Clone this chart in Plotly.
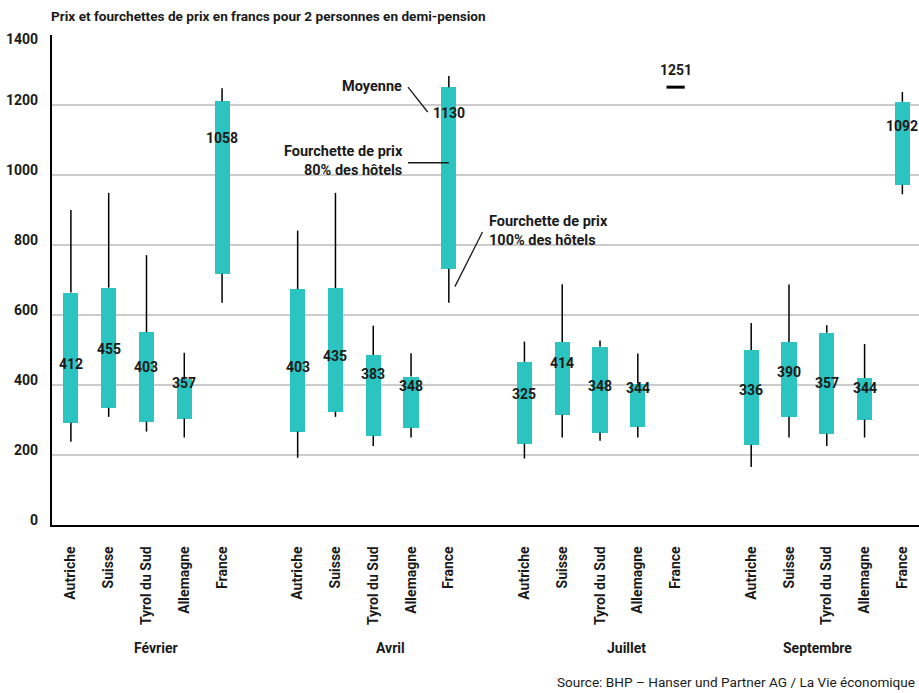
import plotly.graph_objects as go

months = ["Février", "Avril", "Juillet", "Septembre"]
countries = ["Autriche", "Suisse", "Tyrol du Sud", "Allemagne", "France"]

# per month: Autriche, Suisse, Tyrol du Sud, Allemagne, France
low_100 = [238, 309, 267, 250, 635,
           192, 309, 226, 250, 635,
           190, 250, 241, 250, None,
           166, 250, 226, 250, 945]
low_80 = [292, 335, 295, 304, 718,
          267, 324, 255, 278, 732,
          232, 315, 264, 281, None,
          229, 309, 261, 301, 972]
high_80 = [664, 678, 551, 416, 1211,
           674, 677, 486, 424, 1251,
           466, 523, 509, 404, None,
           500, 523, 549, 420, 1209]
high_100 = [900, 949, 771, 492, 1248,
            841, 949, 569, 491, 1283,
            524, 688, 527, 490, None,
            577, 687, 571, 517, 1237]
moyenne = [412, 455, 403, 357, 1058,
           403, 435, 383, 348, 1130,
           325, 414, 348, 344, 1251,
           336, 390, 357, 344, 1092]

y_ticks = [0, 200, 400, 600, 800, 1000, 1200, 1400]

TEAL = "#2cc4c1"
FONT = "Roboto"

pos = [g * 6 + i for g in range(len(months)) for i in range(len(countries))]

fig = go.Figure()

# whiskers (100% range) drawn as two segments outside the 80% box
wx, wy = [], []
for x, a, b, c, d in zip(pos, low_100, low_80, high_80, high_100):
    if a is None:
        continue
    wx += [x, x, None, x, x, None]
    wy += [a, b, None, c, d, None]
fig.add_trace(go.Scatter(x=wx, y=wy, mode="lines",
                         line=dict(color="black", width=1.5),
                         hoverinfo="skip", showlegend=False))

# 80% boxes
bx, bb, bh = [], [], []
for x, b, c in zip(pos, low_80, high_80):
    if b is None:
        continue
    bx.append(x); bb.append(b); bh.append(c - b)
fig.add_trace(go.Bar(x=bx, y=bh, base=bb, width=0.4,
                     marker=dict(color=TEAL, line=dict(width=0)),
                     showlegend=False, hoverinfo="skip"))

# mean-only mark (no range available)
mx = [x for x, a, m in zip(pos, low_80, moyenne) if a is None]
my = [m for a, m in zip(low_80, moyenne) if a is None]
fig.add_trace(go.Scatter(x=mx, y=my, mode="markers",
                         marker=dict(symbol="line-ew", size=13,
                                     line=dict(width=3, color="black")),
                         showlegend=False, hoverinfo="skip"))

ann = []
# mean labels
for x, m in zip(pos, moyenne):
    ann.append(dict(x=x, y=m, xref="x", yref="y", text=str(m), showarrow=False,
                    yshift=17, xanchor="center", yanchor="middle",
                    font=dict(family=FONT, size=14, color="#1a1a1a", weight="bold")))

# y tick labels
for v in y_ticks:
    ann.append(dict(x=-0.0138, y=v, xref="paper", yref="y", text=str(v),
                    showarrow=False, xanchor="right", yanchor="middle",
                    yshift=(-4 if v == 1400 else 5),
                    font=dict(family=FONT, size=14, color="#1a1a1a", weight="bold")))

# month labels
month_offsets = [0.25, 0.45, 0.7, -0.24]
for g, (mname, off) in enumerate(zip(months, month_offsets)):
    ann.append(dict(x=g * 6 + 2 + off, y=-0.251, xref="x", yref="paper", text=mname,
                    showarrow=False, xanchor="center", yanchor="middle",
                    font=dict(family=FONT, size=14, color="#1a1a1a", weight="bold")))

# title
ann.append(dict(x=-0.0035, y=1.0388, xref="paper", yref="paper",
                text="Prix et fourchettes de prix en francs pour 2 personnes en demi-pension",
                showarrow=False, xanchor="left", yanchor="middle",
                font=dict(family=FONT, size=13.6, color="#1a1a1a", weight="bold")))

# source
ann.append(dict(x=0.580, y=-0.320, xref="paper", yref="paper",
                text="Source: BHP – Hanser und Partner AG / La Vie économique",
                showarrow=False, xanchor="left", yanchor="middle",
                font=dict(family=FONT, size=13.6, color="#1a1a1a")))

# explanatory labels (Avril, France bar)
ref_x = pos[9]
expl_font = dict(family=FONT, size=14.5, color="#1a1a1a", weight="bold")
ann.append(dict(x=ref_x - 1.19, y=1252, xref="x", yref="y", text="Moyenne",
                showarrow=False, xanchor="right", yanchor="middle", font=expl_font))
ann.append(dict(x=ref_x - 1.16, y=1040, xref="x", yref="y",
                text="Fourchette de prix<br>80% des hôtels", align="right",
                showarrow=False, xanchor="right", yanchor="middle", font=expl_font))
ann.append(dict(x=ref_x + 1.02, y=841, xref="x", yref="y",
                text="Fourchette de prix<br>100% des hôtels", align="left",
                showarrow=False, xanchor="left", yanchor="middle", font=expl_font))

shapes = [
    dict(type="line", xref="x", yref="y", x0=ref_x - 1.08, y0=1251, x1=ref_x - 0.56, y1=1180,
         line=dict(color="#1a1a1a", width=1.3)),
    dict(type="line", xref="x", yref="y", x0=ref_x - 1.08, y0=1035, x1=ref_x, y1=1035,
         line=dict(color="#1a1a1a", width=1.3)),
    dict(type="line", xref="x", yref="y", x0=ref_x + 0.89, y0=837, x1=ref_x + 0.16, y1=681,
         line=dict(color="#1a1a1a", width=1.3)),
]

fig.update_layout(
    width=919, height=693,
    margin=dict(l=52, r=0, t=35, b=168, pad=0),
    plot_bgcolor="white", paper_bgcolor="white",
    font=dict(family=FONT, color="#1a1a1a"),
    bargap=0,
    annotations=ann, shapes=shapes,
    xaxis=dict(range=[-0.5, 22.44], showgrid=False, zeroline=False,
               showline=True, linecolor="black", linewidth=1.5,
               tickmode="array", tickvals=pos, ticktext=countries * len(months),
               tickangle=-90, ticks="", ticklabelstandoff=14,
               tickfont=dict(family=FONT, size=14, color="#1a1a1a", weight="bold")),
    yaxis=dict(range=[0, 1400], tickvals=y_ticks, showgrid=True,
               gridcolor="#cccccc", gridwidth=1.5, zeroline=False,
               showline=True, linecolor="black", linewidth=1.5,
               showticklabels=False, ticks=""),
)

fig.write_html("out.html")
